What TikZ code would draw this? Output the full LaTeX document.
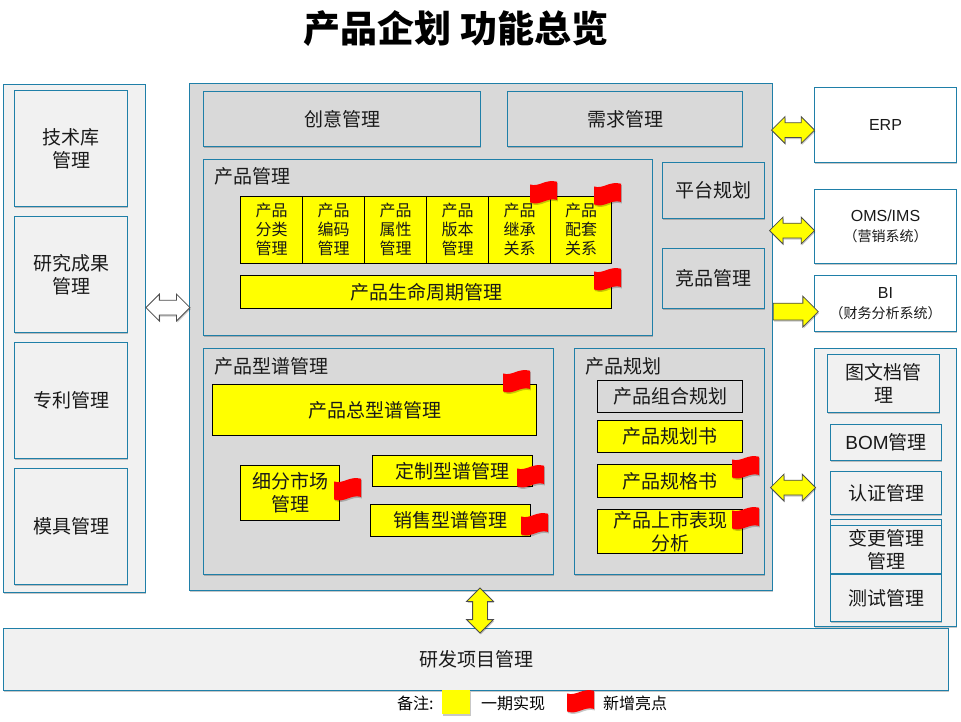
\documentclass[tikz,border=0pt]{standalone}
\usepackage{fontspec}
\setmainfont{Liberation Sans}
\newfontfamily\cjk{Noto Sans CJK SC}
\usetikzlibrary{shadows,shapes.arrows,calc}
\definecolor{bl}{HTML}{1F7FA8}
\definecolor{pan}{HTML}{F1F1F1}
\definecolor{mid}{HTML}{D9D9D9}
\definecolor{yel}{HTML}{FFFF00}
\definecolor{fl}{HTML}{FF0000}
\newcommand{\tfx}{\fontsize{19}{23}\selectfont\cjk}
\newcommand{\sfx}{\fontsize{16}{19}\selectfont\cjk}
\newcommand{\lfx}{\fontsize{16}{20}\selectfont}
\newcommand{\mfx}{\fontsize{14}{17}\selectfont\cjk}
\tikzset{
  softshadow/.style={drop shadow={shadow xshift=.8pt,shadow yshift=-1.5pt,opacity=.22,fill=black}},
  base/.style={inner sep=0pt,align=center,line width=.9pt,text=black!90,font=\tfx},
  lightbox/.style={base,draw=bl,fill=pan,softshadow},
  whitebox/.style={base,draw=bl,fill=white,softshadow,font=\lfx},
  midbox/.style={base,draw=bl,fill=mid,softshadow},
  yelbox/.style={base,draw=black,fill=yel},
  cellbox/.style={yelbox,font=\sfx},
  plainbox/.style={base,draw=black,fill=mid},
  dblarrow/.style={shape=double arrow,inner sep=0pt,inner ysep=7pt,draw=black!70,line width=.8pt,fill=yel,
     double arrow head extend=6pt,double arrow head indent=0pt,softshadow},
  snglarrow/.style={shape=single arrow,inner sep=0pt,inner ysep=8pt,draw=black!70,line width=.8pt,fill=yel,
     single arrow head extend=7pt,single arrow head indent=0pt,softshadow},
  heading/.style={inner sep=0pt,anchor=west,text=black!90,font=\tfx},
  legendtext/.style={inner sep=0pt,anchor=west,text=black,font=\sfx},
  flagshape/.style={fill=fl,draw=none,softshadow},
}
\newcommand{\bx}[7]{%
  \pgfmathsetmacro{\bxw}{#5-#3}\pgfmathsetmacro{\bxh}{#6-#4}%
  \pgfmathsetmacro{\bxx}{(#3+#5)/2-.5}\pgfmathsetmacro{\bxy}{(#4+#6)/2-.4}%
  \node[#2,minimum width=\bxw pt,minimum height=\bxh pt] (#1) at (\bxx,\bxy) {#7};}
\newcommand{\flagat}[2]{%
  \begin{scope}[shift={(#1,#2)},x=27pt,y=-23pt]
  \path[flagshape] (0,.15) .. controls (.35,.28) and (.55,-.1) .. (1,.03) -- (1,.82) .. controls (.6,.7) and (.4,1.1) .. (0,.93) -- cycle;
  \end{scope}}
\begin{document}
\begin{tikzpicture}[x=1pt,y=-1pt]
\useasboundingbox (0,0) rectangle (961,721);
\fill[white] (0,0) rectangle (961,721);
\node[inner sep=0pt,text=black,font=\fontsize{37}{44}\selectfont\cjk\bfseries] (title) at (456,29) {产品企划 功能总览};
% left
\bx{leftp}{lightbox}{4}{85}{146}{593}{}
\bx{l1}{lightbox}{15}{91}{128}{207}{技术库\\管理}
\bx{l2}{lightbox}{15}{217}{128}{333}{研究成果\\管理}
\bx{l3}{lightbox}{15}{343}{128}{459}{专利管理}
\bx{l4}{lightbox}{15}{469}{128}{585}{模具管理}
% main
\bx{main}{midbox}{190}{84}{773}{591}{}
\bx{idea}{midbox}{204}{92}{481}{147}{创意管理}
\bx{req}{midbox}{508}{92}{743}{147}{需求管理}
\bx{pm}{midbox}{204}{160}{653}{336}{}
\node[heading] (pmt) at (214,176) {产品管理};
\bx{c1}{cellbox}{241}{196.5}{303}{264}{产品\\分类\\管理}
\bx{c2}{cellbox}{303}{196.5}{365}{264}{产品\\编码\\管理}
\bx{c3}{cellbox}{365}{196.5}{427}{264}{产品\\属性\\管理}
\bx{c4}{cellbox}{427}{196.5}{489}{264}{产品\\版本\\管理}
\bx{c5}{cellbox}{489}{196.5}{551}{264}{产品\\继承\\关系}
\bx{c6}{cellbox}{551}{196.5}{612}{264}{产品\\配套\\关系}
\bx{life}{yelbox}{241}{276}{612}{309}{产品生命周期管理}
\bx{plat}{midbox}{663}{163}{765}{219}{平台规划}
\bx{comp}{midbox}{663}{249}{765}{309}{竞品管理}
\bx{xp}{midbox}{204}{349}{554}{575}{}
\node[heading] (xpt) at (214,366) {产品型谱管理};
\bx{tot}{yelbox}{213}{385}{537}{436}{产品总型谱管理}
\bx{seg}{yelbox}{241}{466}{340}{521}{细分市场\\管理}
\bx{cus}{yelbox}{373}{456}{533}{487}{定制型谱管理}
\bx{sal}{yelbox}{371}{505}{531}{537}{销售型谱管理}
\bx{pl}{midbox}{575}{349}{765}{575}{}
\node[heading] (plt) at (585,366) {产品规划};
\bx{p1}{plainbox}{598}{381}{743}{413}{产品组合规划}
\bx{p2}{yelbox}{598}{421}{743}{453}{产品规划书}
\bx{p3}{yelbox}{598}{465}{743}{498}{产品规格书}
\bx{p4}{yelbox}{598}{510}{743}{554}{产品上市表现\\分析}
% right
\bx{erp}{whitebox}{815}{88}{957}{163}{ERP}
\bx{oms}{whitebox}{815}{190}{957}{264}{OMS/IMS\\{\mfx （营销系统）}}
\bx{bi}{whitebox}{815}{276}{957}{332}{BI\\{\mfx （财务分析系统）}}
\bx{rp}{lightbox}{815}{349}{957}{627}{}
\bx{r1}{lightbox}{828}{355}{940}{413}{图文档管\\理}
\bx{r2}{lightbox}{831}{425}{942}{461}{{\fontsize{19}{23}\selectfont\rmfamily BOM}管理}
\bx{r3}{lightbox}{831}{472}{942}{515}{认证管理}
\bx{r4b}{lightbox}{831}{520}{942}{560}{}
\bx{r4}{lightbox}{831}{526}{942}{574}{变更管理\\管理}
\bx{r5}{lightbox}{831}{575}{942}{622}{测试管理}
% bottom
\bx{rd}{lightbox}{4}{629}{949}{691}{研发项目管理}
% block arrows
\node[dblarrow,minimum height=43pt,minimum width=26pt] (a1) at ($(erp.west)+(-21,5)$) {};
\node[dblarrow,minimum height=45pt,minimum width=26pt] (a2) at ($(oms.west)+(-22,4)$) {};
\node[snglarrow,minimum height=45pt,minimum width=30pt] (a3) at ($(bi.west)+(-22.5,8)$) {};
\node[dblarrow,minimum height=45pt,minimum width=26pt] (a4) at ($(rp.west)+(-21,0)$) {};
\node[dblarrow,minimum height=44pt,minimum width=26pt,fill=white] (a5) at ($(leftp.east)+(22,-31)$) {};
\node[dblarrow,minimum height=45pt,minimum width=26pt,rotate=90] (a6) at (480,610.5) {};
% flags
\flagat{530}{181}
\flagat{594}{183}
\flagat{594}{268}
\flagat{503}{370}
\flagat{334}{478}
\flagat{517}{465}
\flagat{521}{513}
\flagat{732}{456}
\flagat{732}{507}
% legend
\node[legendtext] (lg) at (397,703) {备注:};
\fill[yel,softshadow] (442,690) rectangle (470,714);
\node[legendtext] (lg1) at (481,703) {一期实现};
\flagat{567}{690}
\node[legendtext] (lg2) at (603,703) {新增亮点};
\end{tikzpicture}
\end{document}
